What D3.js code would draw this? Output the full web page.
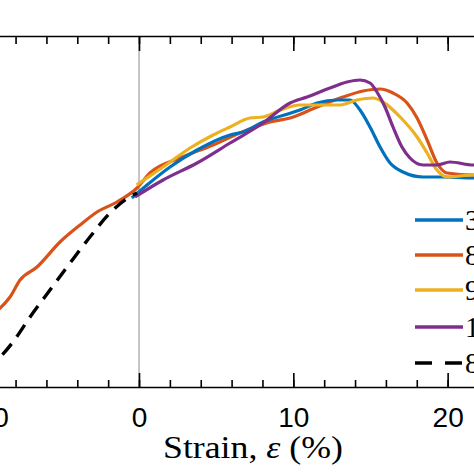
<!DOCTYPE html>
<html><head><meta charset="utf-8">
<script src="https://cdn.jsdelivr.net/npm/d3@7"></script>
<style>body{margin:0;background:#fff}svg{display:block}</style>
</head><body>
<svg id="c" width="474" height="474"></svg>
<script>
// ---- data (strain %, stress arbitrary units) ----
const seriesNames = ["30", "80", "90", "100", "80 (model)"];
const seriesColors = ["#0072BD", "#D95319", "#EDB120", "#7E2F8E", "#000000"];

const blueX = [-0.47,0.52,2.01,3.76,5.90,6.74,8.04,10.43,11.54,12.83,13.67,14.32,14.97,15.62,16.27,17.11,18.41,19.70,21.65,22.2];
const blueY = [18.9,20.2,22.0,23.7,25.2,25.5,26.5,27.7,28.4,28.7,28.7,27.7,26.0,24.0,22.4,21.5,21.0,21.0,20.9,20.9];

const orangeX = [-9.6,-9.0,-8.36,-7.71,-6.61,-5.12,-3.82,-2.72,-1.43,-0.13,0.71,2.66,4.80,7.00,8.49,9.79,11.54,13.22,14.52,15.62,16.46,17.37,18.02,18.67,19.31,19.96,21.65,22.2];
const orangeY = [7.2,7.9,9.0,10.7,12.0,14.5,16.2,17.5,18.5,19.9,21.4,22.9,24.2,25.7,26.5,26.9,28.0,29.0,29.6,29.8,29.4,28.4,26.9,24.7,22.4,21.4,21.2,21.2];

const yellowX = [-0.15,1.56,3.31,4.80,5.90,7.19,8.04,9.14,10.43,11.08,13.03,14.13,15.17,15.81,16.92,18.02,18.67,19.31,19.96,21.65,22.2];
const yellowY = [20.2,22.0,23.9,25.2,26.0,26.9,27.0,27.7,28.2,28.2,28.2,28.7,28.9,28.5,27.0,25.0,23.4,21.7,21.0,21.2,21.2];

const purpleX = [-0.26,1.56,3.76,5.90,8.04,9.79,10.89,12.38,13.48,14.32,14.97,15.42,15.94,16.46,17.04,17.56,18.41,19.31,20.15,21.65,22.2];
const purpleY = [19.0,20.7,22.4,24.4,26.4,28.4,29.0,29.9,30.5,30.7,30.4,29.5,28.0,26.0,24.0,22.9,22.2,22.2,22.5,22.2,22.2];

const dashX = [-10.0,-9.0,-8.17,-7.06,-5.77,-4.47,-3.18,-1.88,-0.39,-0.13];
const dashY = [1.8,3.0,4.5,7.0,9.7,12.4,15.0,17.4,19.2,19.4];

const xTickMinor = d3.range(-10, 23, 2);
const xTickMajor = [-10, 0, 10, 20];
const xLabel = "Strain, ";

// ---- drawing ----
const svg = d3.select("#c");
const x = d3.scaleLinear().domain([-10, 22]).range([-15.3, 478.5]);
const y = d3.scaleLinear().domain([0, 35.1]).range([387, 36]);

const yTop = 36, yBot = 387;

// zero line
svg.append("line").attr("x1", x(0)).attr("x2", x(0)).attr("y1", yTop).attr("y2", yBot)
  .attr("stroke", "#8c8c8c").attr("stroke-width", 1);

const line = d3.line().x(d => x(d[0])).y(d => y(d[1])).curve(d3.curveMonotoneX);
const zip = (a, b) => a.map((v, i) => [v, b[i]]);
const series = [
  zip(blueX, blueY), zip(orangeX, orangeY), zip(yellowX, yellowY), zip(purpleX, purpleY)
];
[1, 0, 2, 3].forEach(i => {
  svg.append("path").attr("d", line(series[i])).attr("fill", "none")
    .attr("stroke", seriesColors[i]).attr("stroke-width", 3.2).attr("stroke-linejoin", "round");
});
svg.append("path").attr("d", line(zip(dashX, dashY))).attr("fill", "none")
  .attr("stroke", "#000").attr("stroke-width", 3.4).attr("stroke-dasharray", "14,9");

// axes
const gB = svg.append("g").attr("transform", `translate(0,${yBot})`);
gB.call(d3.axisBottom(x).tickValues(xTickMinor).tickSize(-7).tickSizeOuter(0).tickFormat(""));
const gB2 = svg.append("g").attr("transform", `translate(0,${yBot})`);
gB2.call(d3.axisBottom(x).tickValues(xTickMajor).tickSize(-14).tickSizeOuter(0).tickPadding(20).tickFormat(d3.format("d")));
gB2.select(".domain").remove();
const gT = svg.append("g").attr("transform", `translate(0,${yTop})`);
gT.call(d3.axisTop(x).tickValues(xTickMinor).tickSize(-8).tickSizeOuter(0).tickFormat(""));
const gT2 = svg.append("g").attr("transform", `translate(0,${yTop})`);
gT2.call(d3.axisTop(x).tickValues(xTickMajor).tickSize(-15).tickSizeOuter(0).tickFormat(""));
gT2.select(".domain").remove();
svg.selectAll(".domain").attr("stroke", "#000").attr("stroke-width", 1.6);
svg.selectAll(".tick line").attr("stroke", "#000").attr("stroke-width", 1.6);
gB2.selectAll(".tick text").attr("font-family", "Liberation Sans, Arial, sans-serif")
  .attr("font-size", 28).attr("fill", "#000").attr("dy", "0.71em");
gB2.selectAll(".tick text").text(d => d < 0 ? "\u2212" + Math.abs(d) : d);

// x label
const t = svg.append("text").attr("x", 253).attr("y", 458).attr("text-anchor", "middle")
  .attr("font-family", "Liberation Serif, Times New Roman, serif").attr("font-size", 31).attr("fill", "#000")
  .attr("textLength", 180).attr("lengthAdjust", "spacingAndGlyphs");
t.append("tspan").text(xLabel);
t.append("tspan").attr("font-style", "italic").text("\u03b5");
t.append("tspan").text(" (%)");

// legend
const legY = [220, 255, 290, 327, 363];
seriesNames.forEach((n, i) => {
  const g = svg.append("g");
  g.append("line").attr("x1", 415).attr("x2", 463).attr("y1", legY[i]).attr("y2", legY[i])
    .attr("stroke", seriesColors[i]).attr("stroke-width", 3.4)
    .attr("stroke-dasharray", i === 4 ? "17,13" : null);
  g.append("text").attr("x", 465).attr("y", legY[i]).attr("dy", "0.35em")
    .attr("font-family", "Liberation Serif, Times New Roman, serif").attr("font-size", 29)
    .attr("fill", "#000").text(n);
});
</script>
</body></html>
